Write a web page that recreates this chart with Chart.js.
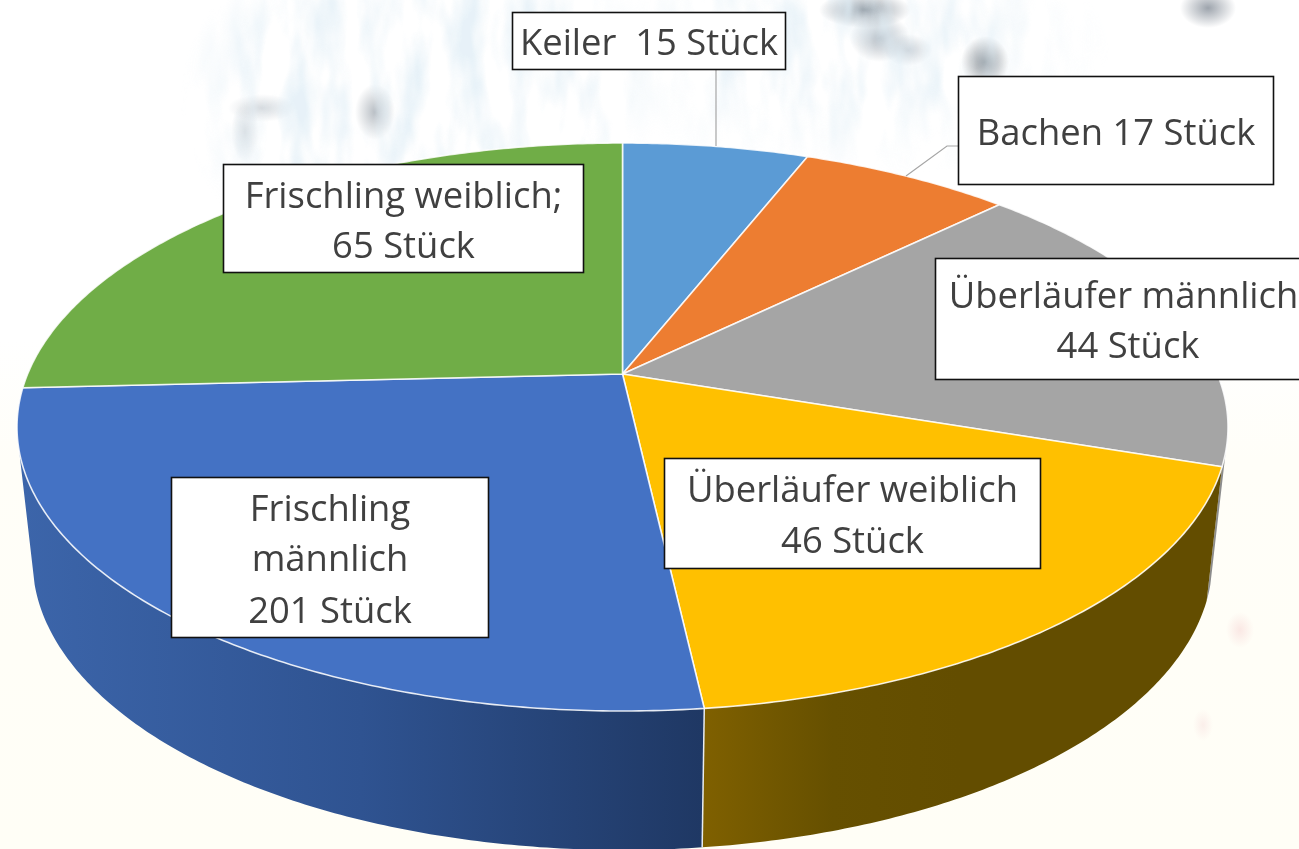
<!DOCTYPE html>
<html lang="de">
<head>
<meta charset="utf-8">
<title>Strecke</title>
<style>
html,body{margin:0;padding:0;width:1299px;height:849px;overflow:hidden;background:#fff}
#bg{position:absolute;left:0;top:0;width:1299px;height:849px;background:
 radial-gradient(ellipse 20px 28px at 375px 112px,rgba(160,168,176,.75),rgba(160,168,176,0)),
 radial-gradient(ellipse 34px 14px at 262px 108px,rgba(180,188,196,.55),rgba(180,188,196,0)),
 radial-gradient(ellipse 14px 30px at 245px 132px,rgba(180,188,196,.5),rgba(180,188,196,0)),
 radial-gradient(ellipse 46px 18px at 865px 10px,rgba(130,140,150,.9),rgba(130,140,150,0)),
 radial-gradient(ellipse 30px 24px at 880px 38px,rgba(150,160,170,.75),rgba(150,160,170,0)),
 radial-gradient(ellipse 24px 16px at 908px 50px,rgba(165,175,185,.6),rgba(165,175,185,0)),
 radial-gradient(ellipse 24px 26px at 985px 62px,rgba(125,133,140,.9),rgba(125,133,140,0)),
 radial-gradient(ellipse 28px 20px at 1208px 8px,rgba(140,148,158,.85),rgba(140,148,158,0)),
 radial-gradient(ellipse 14px 18px at 1240px 630px,rgba(245,205,205,.45),rgba(245,205,205,0)),
 radial-gradient(ellipse 10px 16px at 1203px 725px,rgba(245,215,215,.4),rgba(245,215,215,0)),
 linear-gradient(180deg,#fff 0,#fff 340px,#fffef8 460px,#fffef6 849px)}
#tex{position:absolute;left:0;top:0;opacity:.75;
 -webkit-mask-image:radial-gradient(ellipse 240px 190px at 420px 100px,#000 70%,transparent),radial-gradient(ellipse 260px 130px at 850px 50px,#000 40%,transparent);
 mask-image:radial-gradient(ellipse 240px 190px at 420px 100px,#000 70%,transparent),radial-gradient(ellipse 260px 130px at 850px 50px,#000 40%,transparent)}
canvas{position:absolute;left:0;top:0}
</style>
<script src="https://cdn.jsdelivr.net/npm/chart.js@4"></script>
</head>
<body>
<div id="bg"></div>
<svg id="tex" width="1299" height="849" aria-hidden="true">
  <filter id="brush" x="0" y="0" width="100%" height="100%">
    <feTurbulence type="fractalNoise" baseFrequency="0.035 0.012" numOctaves="3" seed="7"/>
    <feColorMatrix type="matrix" values="0 0 0 0 0.74  0 0 0 0 0.85  0 0 0 0 0.92  2.6 0 0 0 -1.05"/>
  </filter>
  <rect width="1299" height="849" filter="url(#brush)"/>
</svg>
<canvas id="c" width="1299" height="849"></canvas>
<script>
// Slice categories and the values the drawn wedges represent
const categories = ["Keiler","Bachen","Überläufer männlich","Überläufer weiblich","Frischling männlich","Frischling weiblich"];
const values = [15,17,44,45.5,65.5,65];
// Text written in the data-label boxes
const labelLines = [
  ["Keiler  15 Stück"],
  ["Bachen 17 Stück"],
  ["Überläufer männlich","44 Stück"],
  ["Überläufer weiblich","46 Stück"],
  ["Frischling","männlich","201 Stück"],
  ["Frischling weiblich;","65 Stück"]
];
const colors = ["#5B9BD5","#ED7D31","#A5A5A5","#FFC000","#4472C4","#70AD47"];

// Styling: perspective discs, label boxes, leader lines
function disc(cx, ecy, rx, ry, k){
  const s = 1 - k*k;
  return {cx, cy: ecy - ry*k, a: rx*Math.sqrt(s), b: ry*s, k};
}
const TOP = disc(622.5, 427, 605.5, 284, 0.1866);
const BOTTOM = disc(622.5, 560, 590, 290, 0.1866);
const SIDE_FROM = 105.5*Math.PI/180, SIDE_TO = 254.5*Math.PI/180;   // outline tangents of the drum
function project(t, d){
  const u = Math.sin(t), v = -Math.cos(t), w = 1 - d.k*v;
  return [d.cx + d.a*u/w, d.cy + d.b*v/w];
}
const boxes = [
  {x:512.5,y:12.5,w:273,h:57,base:[55]},
  {x:958.5,y:76.5,w:315,h:108,base:[145]},
  {x:935.5,y:258.5,w:380,h:121,base:[308,358],tx:[1123.5,1128]},
  {x:664.5,y:458.5,w:376,h:110,base:[502,553]},
  {x:171.5,y:477.5,w:317,h:160,base:[521,571,623]},
  {x:223.5,y:164.5,w:360,h:108,base:[208,258]}
];
const leaders = [
  [[716,69],[716,146]],
  [[958,146],[947,146],[906,176]]
];
const FONT = '36.4px "Open Sans"';

// Wedges: the library calls this for each arc, with the angles it computed from the data
Chart.ArcElement.prototype.draw = function(ctx){
  const o = this.options;
  const a0 = this.startAngle + Math.PI/2, a1 = this.endAngle + Math.PI/2;
  const n = Math.max(2, Math.ceil((a1-a0)/0.01));
  ctx.save();
  ctx.beginPath();
  ctx.moveTo(TOP.cx, TOP.cy);
  for(let i=0;i<=n;i++){
    const p = project(a0+(a1-a0)*i/n, TOP);
    ctx.lineTo(p[0],p[1]);
  }
  ctx.closePath();
  ctx.fillStyle = o.backgroundColor;
  ctx.fill();
  ctx.lineJoin = 'round';
  ctx.strokeStyle = o.borderColor;
  ctx.lineWidth = o.borderWidth;
  ctx.stroke();
  ctx.restore();
};

function sideFill(ctx, i){
  const g = (stops, x0, x1) => {
    const l = ctx.createLinearGradient(x0,0,x1,0);
    stops.forEach((c,j)=>l.addColorStop(j/(stops.length-1),c));
    return l;
  };
  if(i===4) return g(["#3C65AA","#2F5391","#1F3864"],20,702);
  if(i===3) return g(["#7F6000","#665000","#634D00"],704,960);
  return "#8C8C8C";
}

const sidesPlugin = {
  id:'sides',
  beforeDatasetsDraw(chart){
    const ctx = chart.ctx, arcs = chart.getDatasetMeta(0).data;
    arcs.forEach((arc,i)=>{
      const a0 = Math.max(arc.startAngle+Math.PI/2, SIDE_FROM);
      const a1 = Math.min(arc.endAngle+Math.PI/2, SIDE_TO);
      if(a1 <= a0) return;
      const n = Math.ceil((a1-a0)/0.01);
      ctx.save();
      ctx.beginPath();
      for(let j=0;j<=n;j++){const p=project(a0+(a1-a0)*j/n,TOP); j?ctx.lineTo(p[0],p[1]):ctx.moveTo(p[0],p[1]);}
      for(let j=n;j>=0;j--){const p=project(a0+(a1-a0)*j/n,BOTTOM); ctx.lineTo(p[0],p[1]);}
      ctx.closePath();
      ctx.fillStyle = sideFill(ctx,i);
      ctx.fill();
      ctx.restore();
    });
    // the seam between the two front side faces
    const seam = arcs[3].endAngle+Math.PI/2;
    const p=project(seam,TOP), q=project(seam,BOTTOM);
    ctx.save();
    ctx.strokeStyle='#E8ECF2';ctx.lineWidth=1.5;
    ctx.beginPath();ctx.moveTo(p[0],p[1]);ctx.lineTo(q[0],q[1]);ctx.stroke();
    ctx.restore();
  },
  afterDatasetsDraw(chart){
    const ctx = chart.ctx;
    ctx.save();
    ctx.strokeStyle='#A6A6A6';ctx.lineWidth=1.2;
    leaders.forEach(l=>{
      ctx.beginPath();
      l.forEach((p,i)=>i?ctx.lineTo(p[0],p[1]):ctx.moveTo(p[0],p[1]));
      ctx.stroke();
    });
    ctx.font=FONT;ctx.textAlign='center';ctx.textBaseline='alphabetic';
    boxes.forEach((b,i)=>{
      ctx.fillStyle='#fff';ctx.fillRect(b.x,b.y,b.w,b.h);
      ctx.strokeStyle='#111';ctx.lineWidth=1.6;ctx.strokeRect(b.x,b.y,b.w,b.h);
      ctx.fillStyle='#404040';
      labelLines[i].forEach((t,j)=>ctx.fillText(t,b.tx ? b.tx[j] : b.x+b.w/2,b.base[j]));
    });
    ctx.restore();
  }
};

new Chart(document.getElementById('c'),{
  type:'pie',
  data:{labels:categories,datasets:[{data:values,backgroundColor:colors,borderColor:'rgba(255,255,255,.85)',borderWidth:1.6}]},
  options:{
    responsive:false,animation:false,
    plugins:{legend:{display:false},tooltip:{enabled:false}}
  },
  plugins:[sidesPlugin]
});
</script>
</body>
</html>
